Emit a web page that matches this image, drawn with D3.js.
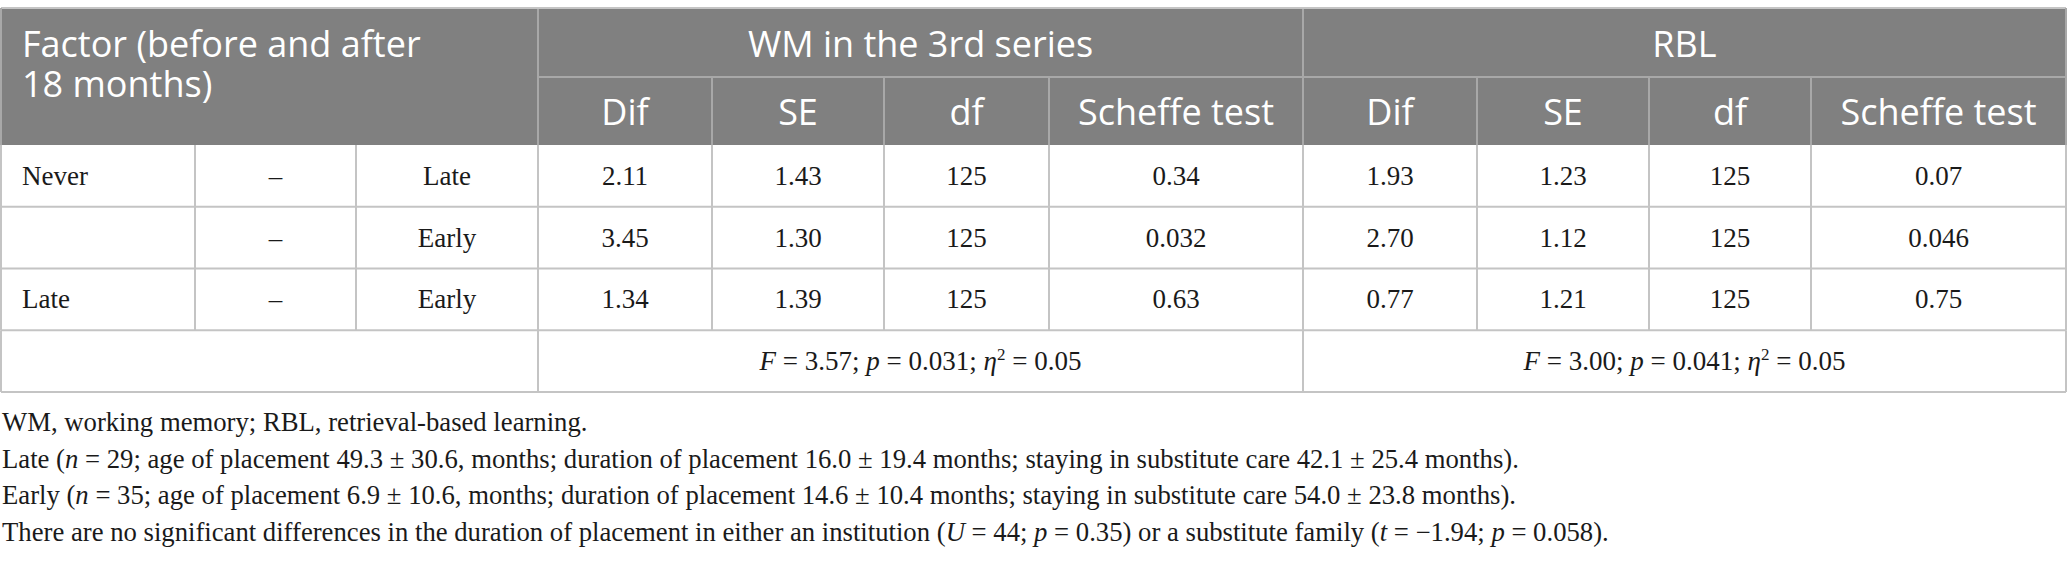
<!DOCTYPE html>
<html>
<head>
<meta charset="utf-8">
<script src="https://cdn.jsdelivr.net/npm/d3@7"></script>
<style>
  body { margin: 0; background: #fff; }
</style>
</head>
<body>
<svg id="table"></svg>
<script>
var groups = ["WM in the 3rd series", "RBL"];
var subHeads = ["Dif", "SE", "df", "Scheffe test"];
var factorTitle = ["Factor (before and after", "18 months)"];

var factorFrom = ["Never", "", "Late"];
var factorSep = ["–", "–", "–"];
var factorTo = ["Late", "Early", "Early"];

var wmDif = [2.11, 3.45, 1.34];
var wmSE = [1.43, 1.30, 1.39];
var wmDf = [125, 125, 125];
var wmScheffe = ["0.34", "0.032", "0.63"];

var rblDif = [1.93, 2.70, 0.77];
var rblSE = [1.23, 1.12, 1.21];
var rblDf = [125, 125, 125];
var rblScheffe = ["0.07", "0.046", "0.75"];

var anovaF = ["3.57", "3.00"];
var anovaP = ["0.031", "0.041"];
var anovaEta = ["0.05", "0.05"];

// *...* marks italic parts
var notes = [
  "WM, working memory; RBL, retrieval-based learning.",
  "Late (*n* = 29; age of placement 49.3 ± 30.6, months; duration of placement 16.0 ± 19.4 months; staying in substitute care 42.1 ± 25.4 months).",
  "Early (*n* = 35; age of placement 6.9 ± 10.6, months; duration of placement 14.6 ± 10.4 months; staying in substitute care 54.0 ± 23.8 months).",
  "There are no significant differences in the duration of placement in either an institution (*U* = 44; *p* = 0.35) or a substitute family (*t* = −1.94; *p* = 0.058)."
];

// ---- layout ----
var width = 2068, height = 563;
var colEdges = [1, 195, 356, 538, 712, 884, 1049, 1303, 1477, 1649, 1811, 2066];
var headTop = 8, headMid = 77, headBottom = 145, tableBottom = 392;
var headFill = "#808080", headLine = "#a8a8a8", bodyLine = "#c4c4c4";
var sans = "'Open Sans', 'Noto Sans', sans-serif";
var serif = "'Liberation Serif', 'Times New Roman', serif";

var svg = d3.select("#table")
  .attr("width", width)
  .attr("height", height);

var y = d3.scaleBand()
  .domain(d3.range(4))
  .range([headBottom, tableBottom]);

function mid(i) { return (colEdges[i] + colEdges[i + 1]) / 2; }
var fmt2 = d3.format(".2f");

// header background
svg.append("rect")
  .attr("x", colEdges[0]).attr("y", headTop)
  .attr("width", colEdges[11] - colEdges[0])
  .attr("height", headBottom - headTop)
  .attr("fill", headFill);

// header lines
var hl = svg.append("g").attr("stroke", headLine).attr("stroke-width", 2);
hl.append("line").attr("x1", colEdges[3]).attr("x2", colEdges[11])
  .attr("y1", headMid).attr("y2", headMid);
[3, 7].forEach(function(i) {
  hl.append("line").attr("x1", colEdges[i]).attr("x2", colEdges[i])
    .attr("y1", headTop).attr("y2", headBottom);
});
[4, 5, 6, 8, 9, 10].forEach(function(i) {
  hl.append("line").attr("x1", colEdges[i]).attr("x2", colEdges[i])
    .attr("y1", headMid).attr("y2", headBottom);
});

// header text
var ht = svg.append("g")
  .attr("fill", "#fff")
  .style("font-family", sans)
  .style("font-size", "36px");

ht.selectAll(".ft")
  .data(factorTitle)
  .enter().append("text")
  .attr("x", 22)
  .attr("y", function(d, i) { return 57 + i * 40; })
  .text(function(d) { return d; });

ht.selectAll(".grp")
  .data(groups)
  .enter().append("text")
  .attr("x", function(d, i) { return (colEdges[3 + i * 4] + colEdges[7 + i * 4]) / 2; })
  .attr("y", 57)
  .attr("text-anchor", "middle")
  .text(function(d) { return d; });

[0, 1].forEach(function(g) {
  ht.selectAll(".sub" + g)
    .data(subHeads)
    .enter().append("text")
    .attr("x", function(d, i) { return mid(3 + g * 4 + i); })
    .attr("y", 125)
    .attr("text-anchor", "middle")
    .text(function(d) { return d; });
});

// body lines
var bl = svg.append("g").attr("stroke", bodyLine).attr("stroke-width", 2);
d3.range(1, 5).forEach(function(r) {
  var yy = r < 4 ? y(r) : tableBottom;
  bl.append("line").attr("x1", colEdges[0]).attr("x2", colEdges[11])
    .attr("y1", yy).attr("y2", yy);
});
bl.append("line").attr("x1", colEdges[0]).attr("x2", colEdges[11])
  .attr("y1", headTop).attr("y2", headTop);
colEdges.forEach(function(e, i) {
  bl.append("line").attr("x1", e).attr("x2", e)
    .attr("y1", headBottom).attr("y2", y(3));
});
[0, 3, 7, 11].forEach(function(i) {
  bl.append("line").attr("x1", colEdges[i]).attr("x2", colEdges[i])
    .attr("y1", y(3)).attr("y2", tableBottom);
});
[0, 11].forEach(function(i) {
  bl.append("line").attr("x1", colEdges[i]).attr("x2", colEdges[i])
    .attr("y1", headTop).attr("y2", headBottom)
    .attr("stroke", headLine);
});

// body cells
var rows = d3.range(3).map(function(r) {
  return [factorFrom[r], factorSep[r], factorTo[r],
    fmt2(wmDif[r]), fmt2(wmSE[r]), wmDf[r], wmScheffe[r],
    fmt2(rblDif[r]), fmt2(rblSE[r]), rblDf[r], rblScheffe[r]];
});

var bt = svg.append("g")
  .attr("fill", "#1a1a1a")
  .style("font-family", serif)
  .style("font-size", "27px");

rows.forEach(function(row, r) {
  bt.selectAll(".r" + r)
    .data(row)
    .enter().append("text")
    .attr("x", function(d, i) { return i === 0 ? 22 : mid(i); })
    .attr("y", y(r) + y.bandwidth() / 2 + 9)
    .attr("text-anchor", function(d, i) { return i === 0 ? "start" : "middle"; })
    .text(function(d) { return d; });
});

// anova summary row
[0, 1].forEach(function(g) {
  var t = bt.append("text")
    .attr("x", (colEdges[3 + g * 4] + colEdges[7 + g * 4]) / 2)
    .attr("y", y(3) + y.bandwidth() / 2 + 9)
    .attr("text-anchor", "middle");
  t.append("tspan").style("font-style", "italic").text("F");
  t.append("tspan").text(" = " + anovaF[g] + "; ");
  t.append("tspan").style("font-style", "italic").text("p");
  t.append("tspan").text(" = " + anovaP[g] + "; ");
  t.append("tspan").style("font-style", "italic").text("η");
  t.append("tspan").attr("dy", -10).style("font-size", "17px").text("2");
  t.append("tspan").attr("dy", 10).text(" = " + anovaEta[g]);
});

// footnotes
var fn = svg.append("g")
  .attr("fill", "#1a1a1a")
  .style("font-family", serif)
  .style("font-size", "26.7px");

notes.forEach(function(line, i) {
  var t = fn.append("text")
    .attr("x", 2)
    .attr("y", 431 + i * 36.5);
  line.split("*").forEach(function(part, k) {
    if (!part) return;
    t.append("tspan")
      .style("font-style", k % 2 ? "italic" : "normal")
      .text(part);
  });
});
</script>
</body>
</html>
